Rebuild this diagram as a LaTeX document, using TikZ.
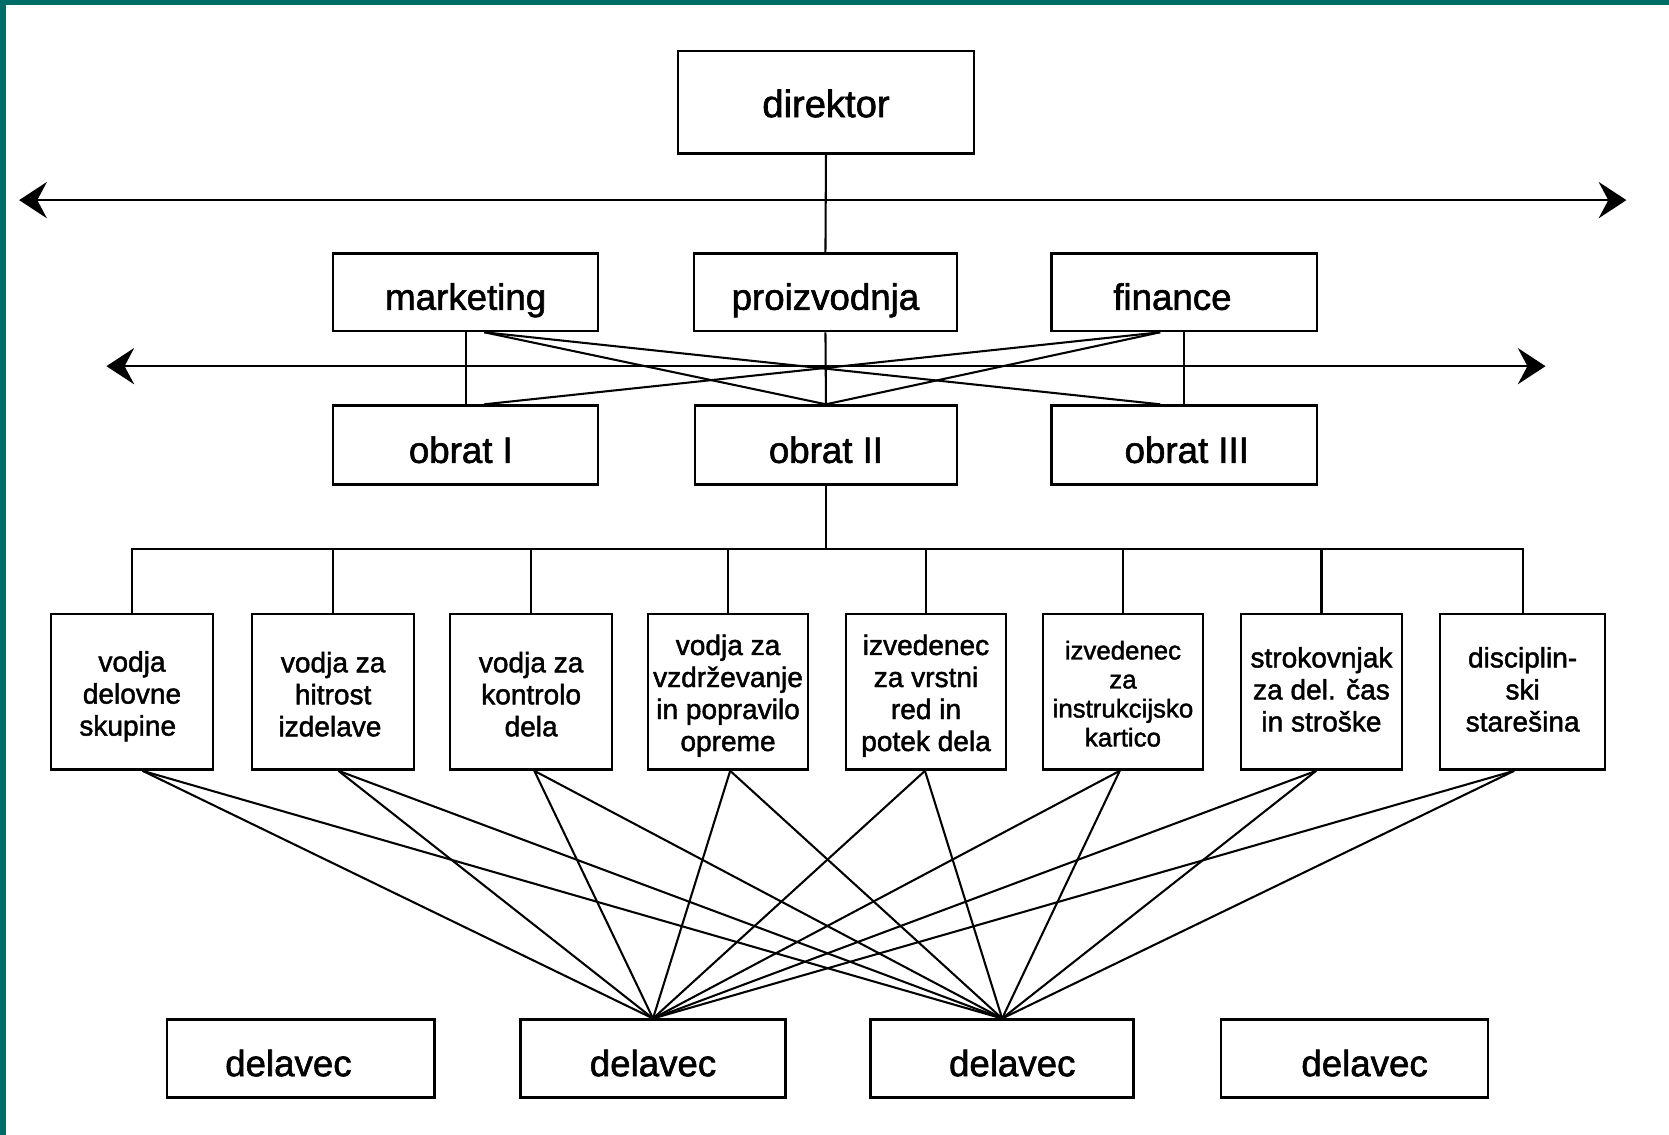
\documentclass[tikz,border=0pt]{standalone}
\usepackage{fontspec}
\setmainfont{Liberation Sans}[FakeBold=1.6]
\usetikzlibrary{arrows.meta}
\definecolor{frameteal}{RGB}{0,108,104}
\newcommand\topadj[1]{\rule{0pt}{#1}}
\newcommand\botadj[1]{\rule[-#1]{0pt}{#1}}
\tikzset{
  box/.style={draw, line width=0.65pt, fill=white, inner sep=0pt, align=center},
  bigbox/.style={box, font=\fontsize{9.8}{11}\selectfont, text height=9.4pt, text depth=0pt},
  smallbox/.style={box, minimum width=1.52cm, minimum height=1.46cm, font=\fontsize{7.5}{8.55}\selectfont},
  link/.style={line width=0.55pt},
  dblarrow/.style={line width=0.7pt, {Stealth[length=2.6mm,width=3.4mm,inset=0.9mm]}-{Stealth[length=2.6mm,width=3.4mm,inset=0.9mm]}}
}
\begin{document}
\begin{tikzpicture}[x=0.01cm,y=-0.01cm]
\useasboundingbox (0,0) rectangle (1568,1066);
\fill[frameteal] (0,0) rectangle (1568,5);
\fill[frameteal] (0,0) rectangle (6,1066);

% top levels
\node[bigbox, minimum width=2.78cm, minimum height=0.96cm, text height=8pt, font=\fontsize{10.2}{11}\selectfont] (dir) at (776,96) {direktor};
\node[bigbox, minimum width=2.49cm, minimum height=0.73cm] (mkt) at (437.5,274.5) {marketing};
\node[bigbox, minimum width=2.47cm, minimum height=0.73cm] (pro) at (775.5,274.5) {proizvodnja};
\node[bigbox, minimum width=2.49cm, minimum height=0.73cm] (fin) at (1112.5,274.5) {finance\hspace*{0.22cm}};
\node[bigbox, minimum width=2.49cm, minimum height=0.74cm, text height=9.6pt] (ob1) at (437.5,418) {obrat I\hspace*{0.09cm}};
\node[bigbox, minimum width=2.46cm, minimum height=0.74cm, text height=9.6pt] (ob2) at (776,418) {obrat II};
\node[bigbox, minimum width=2.49cm, minimum height=0.74cm, text height=9.6pt] (ob3) at (1112.5,418) {\hspace*{0.05cm}obrat III};

% functional boxes
\node[smallbox] (b1) at (124,650) {\topadj{7.8pt}vodja\\delovne\\skupine\hspace*{0.08cm}};
\node[smallbox] (b2) at (313,650) {\topadj{6.7pt}vodja za\\hitrost\\izdelave\hspace*{0.06cm}};
\node[smallbox] (b3) at (499,650) {\topadj{6.7pt}vodja za\\kontrolo\\dela};
\node[smallbox, minimum width=1.50cm] (b4) at (684,650) {\topadj{7.5pt}vodja za\\vzdrževanje\\in popravilo\\opreme};
\node[smallbox, minimum width=1.50cm] (b5) at (870,650) {\topadj{7.5pt}izvedenec\\za vrstni\\red in\\potek dela};
\node[smallbox, minimum width=1.50cm, font=\fontsize{6.9}{7.75}\selectfont] (b6) at (1055,650) {\topadj{6pt}izvedenec\\za\\instrukcijsko\\kartico};
\node[smallbox, minimum width=1.51cm] (b7) at (1241.5,650) {strokovnjak\\za del. čas\\in stroške\botadj{1.4pt}};
\node[smallbox, minimum width=1.55cm] (b8) at (1430.5,650) {disciplin-\\ski\\starešina\botadj{1.4pt}};

% workers
\node[bigbox, minimum width=2.51cm, minimum height=0.73cm] (d1) at (282.5,994.5) {delavec\hspace*{0.23cm}};
\node[bigbox, minimum width=2.49cm, minimum height=0.73cm] (d2) at (613.5,994.5) {delavec};
\node[bigbox, minimum width=2.47cm, minimum height=0.73cm] (d3) at (941.5,994.5) {\hspace*{0.19cm}delavec};
\node[bigbox, minimum width=2.51cm, minimum height=0.73cm] (d4) at (1272.5,994.5) {\hspace*{0.19cm}delavec};

% double arrows
\coordinate (a1l) at (18,188);
\coordinate (a1r) at (1528,188);
\coordinate (a2l) at (100,344);
\coordinate (a2r) at (1452,344);
\draw[dblarrow] (a1l) -- (a1r);
\draw[dblarrow] (a2l) -- (a2r);

% line links
\draw[link] (dir.south) -- (pro.north);
\draw[link] (pro.south) -- (ob2.north);
\draw[link] (mkt.south) -- (ob1.north);
\draw[link] (fin.south) -- (ob3.north);
\draw[link] ([xshift=0.175cm]mkt.south) -- (ob2.north);
\draw[link] ([xshift=0.175cm]mkt.south) -- ([xshift=-0.225cm]ob3.north);
\draw[link] ([xshift=-0.225cm]fin.south) -- ([xshift=0.175cm]ob1.north);
\draw[link] ([xshift=-0.225cm]fin.south) -- (ob2.north);

% bus to functional boxes
\draw[link] (ob2.south) -- ++(0,60) coordinate (bus);
\foreach \b in {b1,b2,b3,b4,b5,b6,b7,b8}
  \draw[link] (bus) -| (\b.north);

% functional boxes to workers
\foreach \b/\s in {b1/0.10cm,b2/0.05cm,b3/0.03cm,b4/0.02cm,b5/-0.01cm,b6/-0.03cm,b7/-0.05cm,b8/-0.08cm}{
  \draw[link] ([xshift=\s]\b.south) -- (d2.north);
  \draw[link] ([xshift=\s]\b.south) -- (d3.north);
}
\end{tikzpicture}
\end{document}
